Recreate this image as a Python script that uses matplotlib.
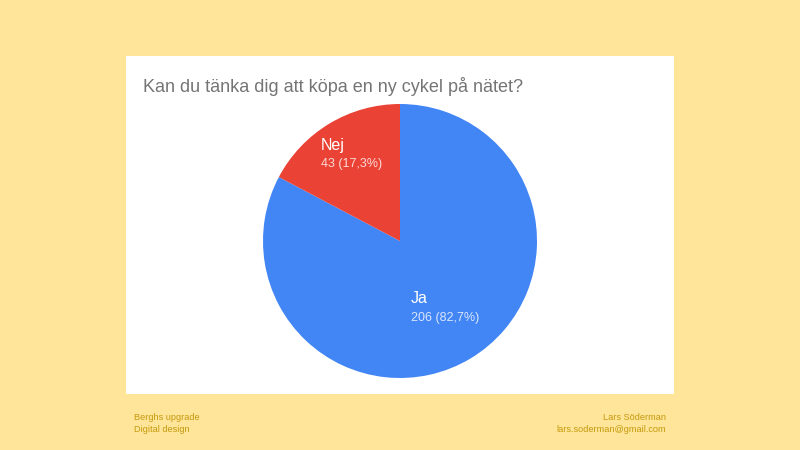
import matplotlib
matplotlib.use("Agg")
import matplotlib.pyplot as plt
from matplotlib.patches import Rectangle

categories = ["Ja", "Nej"]
counts = [206, 43]
percent_labels = ["82,7%", "17,3%"]
colors = ["#4285F4", "#EA4335"]
title = "Kan du tänka dig att köpa en ny cykel på nätet?"
footer_left = ["Berghs upgrade", "Digital design"]
footer_right = ["Lars Söderman", "lars.soderman@gmail.com"]

plt.rcParams['font.family'] = ['Liberation Sans', 'DejaVu Sans']

W, H = 800, 450
fig = plt.figure(figsize=(8, 4.5), dpi=100)
fig.patch.set_facecolor("#FFE599")

# white panel
fig.patches.append(Rectangle((126 / W, 1 - 394 / H), (674 - 126) / W, (394 - 56) / H,
                             transform=fig.transFigure, facecolor="white",
                             edgecolor="none", zorder=0))

fig.text(143 / W, 1 - 86 / H, title, fontsize=13.0, color="#757575",
         ha="left", va="center")

cx, cy, r = 400, 241, 137
ax = fig.add_axes([(cx - r) / W, (H - cy - r) / H, 2 * r / W, 2 * r / H])
ax.set_zorder(2)
wedges, _ = ax.pie(counts, colors=colors, startangle=90, counterclock=False,
                   radius=1, wedgeprops=dict(linewidth=0))
ax.set_xlim(-1, 1)
ax.set_ylim(-1, 1)
ax.set_aspect("equal")
ax.axis("off")

label_pos = {"Ja": (0.08, -0.42, -0.565), "Nej": (-0.575, 0.70, 0.565)}
for cat, n, p in zip(categories, counts, percent_labels):
    x, y1, y2 = label_pos[cat]
    ax.text(x, y1, cat, color="white", fontsize=11.5, ha="left", va="center")
    ax.text(x, y2, f"{n} ({p})", color="white", alpha=0.8, fontsize=9,
            ha="left", va="center")

fcol = "#C49A0C"
fs = 6.6
fig.text(134 / W, 1 - 418 / H, footer_left[0], fontsize=fs, color=fcol, ha="left", va="center")
fig.text(134 / W, 1 - 430 / H, footer_left[1], fontsize=fs, color=fcol, ha="left", va="center")
fig.text(666 / W, 1 - 418 / H, footer_right[0], fontsize=fs, color=fcol, ha="right", va="center")
fig.text(666 / W, 1 - 430 / H, footer_right[1], fontsize=fs, color=fcol, ha="right", va="center")

fig.savefig("out.png", dpi=100, facecolor=fig.get_facecolor())
